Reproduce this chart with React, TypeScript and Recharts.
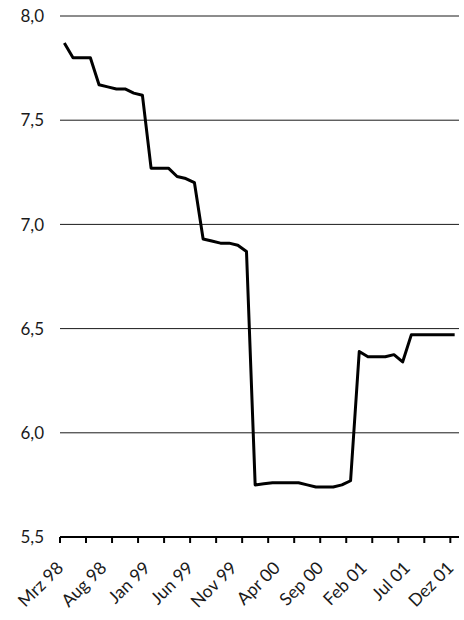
import React from 'react';
import { LineChart, Line, XAxis, YAxis, CartesianGrid } from 'recharts';

const months = [
  'Mrz 98', 'Apr 98', 'Mai 98', 'Jun 98', 'Jul 98', 'Aug 98', 'Sep 98', 'Okt 98', 'Nov 98', 'Dez 98',
  'Jan 99', 'Feb 99', 'Mrz 99', 'Apr 99', 'Mai 99', 'Jun 99', 'Jul 99', 'Aug 99', 'Sep 99', 'Okt 99',
  'Nov 99', 'Dez 99', 'Jan 00', 'Feb 00', 'Mrz 00', 'Apr 00', 'Mai 00', 'Jun 00', 'Jul 00', 'Aug 00',
  'Sep 00', 'Okt 00', 'Nov 00', 'Dez 00', 'Jan 01', 'Feb 01', 'Mrz 01', 'Apr 01', 'Mai 01', 'Jun 01',
  'Jul 01', 'Aug 01', 'Sep 01', 'Okt 01', 'Nov 01', 'Dez 01'];

const values = [
  7.87, 7.80, 7.80, 7.80, 7.67, 7.66, 7.65, 7.65, 7.63, 7.62,
  7.27, 7.27, 7.27, 7.23, 7.22, 7.20, 6.93, 6.92, 6.91, 6.91,
  6.90, 6.87, 5.75, 5.755, 5.76, 5.76, 5.76, 5.76, 5.75, 5.74,
  5.74, 5.74, 5.75, 5.77, 6.39, 6.365, 6.365, 6.365, 6.375, 6.34,
  6.47, 6.47, 6.47, 6.47, 6.47, 6.47];

const yTicks = [5.5, 6.0, 6.5, 7.0, 7.5, 8.0];
const labelEvery = 5; // label every 5th month
const markEvery = 3; // tick marks every quarter, on category borders

const data = months.map((m, i) => ({ i, month: m, value: values[i] }));

const labelTicks = months.map((_, i) => i).filter((i) => i % labelEvery === 0);
const markTicks = months.map((_, i) => i).filter((i) => i % markEvery === 0).map((i) => i - 0.5);
const xTicks = [...markTicks, ...labelTicks];

const font = 'Lato, "Open Sans", sans-serif';

const YTick = ({ y, payload }: any) =>
<text x={44} y={y} dy="0.36em" textAnchor="end" fontSize={17} fontFamily={font} fill="#1a1a1a">
    {payload.value.toFixed(1).replace('.', ',')}
  </text>;


const XTick = ({ x, y, payload }: any) => {
  const v = payload.value;
  if (!Number.isInteger(v)) {
    return <line x1={x} y1={y} x2={x} y2={y + 6} stroke="#000" strokeWidth={2} />;
  }
  const ax = x;
  const ay = y + 32;
  return (
    <text x={ax} y={ay} textAnchor="end" fontSize={17.5} fontFamily={font} fill="#1a1a1a"
    transform={`rotate(-45 ${ax} ${ay})`}>
      {months[v]}
    </text>);

};

export default function App() {
  return (
    <div style={{ position: 'absolute', left: 0, top: 0, width: 464, height: 620, background: '#fff' }}>
      <LineChart width={464} height={620} data={data} margin={{ top: 16, right: 5, left: 0, bottom: 0 }}>
        <CartesianGrid horizontal vertical={false} stroke="#1a1a1a" strokeWidth={1} />
        <XAxis
          type="number"
          dataKey="i"
          domain={[-0.5, months.length - 0.5]}
          allowDataOverflow
          ticks={xTicks}
          interval={0}
          tickLine={false}
          tickSize={0}
          tickMargin={0}
          axisLine={{ stroke: '#000', strokeWidth: 2 }}
          tick={<XTick />}
          height={83} />
        
        <YAxis
          domain={[5.5, 8]}
          ticks={yTicks}
          interval={0}
          width={60}
          axisLine={false}
          tickLine={false}
          tick={<YTick />} />
        
        <Line
          type="linear"
          dataKey="value"
          stroke="#000"
          strokeWidth={3}
          strokeLinejoin="round"
          dot={false}
          isAnimationActive={false} />
        
      </LineChart>
    </div>);

}
